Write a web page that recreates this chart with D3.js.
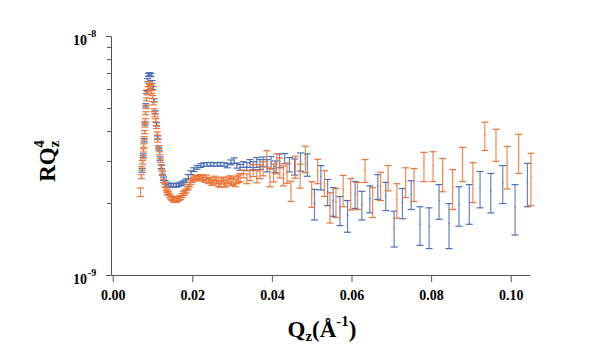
<!DOCTYPE html>
<html>
<head>
<meta charset="utf-8">
<script src="https://cdn.jsdelivr.net/npm/d3@7"></script>
<style>
  html, body { margin: 0; padding: 0; background: #fff; }
  svg { display: block; }
  text { font-family: "Liberation Serif", "Times New Roman", serif; font-weight: bold; }
</style>
</head>
<body>
<svg id="chart" width="596" height="358"></svg>
<script>
// ---- Data (R in units of 1e-9) ----
const UNIT = 1e-9;

const blueQ = [0.0074,0.0077,0.0079,0.0081,0.0083,0.0085,0.0088,0.0090,0.0093,0.0096,0.0099,0.0101,0.0104,0.0107,0.0110,0.0113,0.0116,0.0119,0.0122,0.0125,0.0128,0.0132,0.0136,0.0141,0.0147,0.0153,0.0160,0.0166,0.0172,0.0178,0.0184,0.0190,0.0197,0.0204,0.0212,0.0221,0.0229,0.0237,0.0246,0.0254,0.0263,0.0271,0.0280,0.0288,0.0297,0.0305,0.0312,0.0320,0.0328,0.0337,0.0345,0.0353,0.0362,0.0370,0.0378,0.0388,0.0398,0.0408,0.0419,0.0432,0.0444,0.0457,0.0472,0.0489,0.0507,0.0523,0.0540,0.0554,0.0571,0.0590,0.0609,0.0626,0.0646,0.0666,0.0686,0.0707,0.0728,0.0750,0.0772,0.0795,0.0820,0.0845,0.0870,0.0896,0.0923,0.0950,0.0980,0.1011,0.1042];
const blueR = [2.74,3.16,3.66,4.31,5.13,5.82,6.53,6.88,6.92,6.86,6.41,6.05,5.38,4.79,4.27,3.76,3.38,3.07,2.84,2.68,2.53,2.44,2.39,2.38,2.37,2.38,2.37,2.39,2.41,2.44,2.48,2.58,2.68,2.76,2.82,2.87,2.90,2.90,2.91,2.90,2.90,2.91,2.90,2.87,2.96,3.01,2.87,2.82,2.90,2.84,2.93,2.87,2.96,2.90,2.98,2.87,2.96,2.84,3.01,3.07,2.90,2.84,2.98,2.90,1.99,2.57,2.23,2.04,1.87,1.78,2.18,1.97,2.09,2.35,2.15,1.58,2.01,2.18,1.63,1.60,2.05,1.64,1.97,2.01,2.31,2.24,2.43,1.93,2.43];
const blueE = [0.05,0.05,0.06,0.07,0.08,0.09,0.10,0.10,0.10,0.10,0.10,0.09,0.08,0.07,0.07,0.06,0.05,0.05,0.05,0.04,0.04,0.04,0.04,0.04,0.04,0.04,0.04,0.04,0.04,0.04,0.04,0.05,0.05,0.05,0.05,0.05,0.05,0.05,0.05,0.05,0.05,0.05,0.05,0.06,0.07,0.08,0.07,0.08,0.08,0.11,0.11,0.11,0.14,0.14,0.14,0.17,0.17,0.16,0.20,0.15,0.20,0.22,0.26,0.31,0.29,0.30,0.28,0.28,0.26,0.27,0.28,0.27,0.27,0.28,0.29,0.27,0.29,0.30,0.30,0.31,0.34,0.35,0.37,0.38,0.40,0.42,0.44,0.46,0.50];

const orangeQ = [0.0070,0.0072,0.0073,0.0075,0.0076,0.0077,0.0078,0.0079,0.0080,0.0081,0.0082,0.0083,0.0084,0.0085,0.0087,0.0089,0.0091,0.0093,0.0095,0.0098,0.0100,0.0102,0.0104,0.0106,0.0108,0.0110,0.0112,0.0113,0.0115,0.0118,0.0120,0.0123,0.0125,0.0128,0.0131,0.0134,0.0136,0.0138,0.0140,0.0143,0.0146,0.0149,0.0152,0.0155,0.0159,0.0162,0.0165,0.0168,0.0171,0.0174,0.0177,0.0181,0.0184,0.0187,0.0190,0.0193,0.0196,0.0200,0.0203,0.0207,0.0211,0.0215,0.0219,0.0224,0.0228,0.0232,0.0236,0.0241,0.0245,0.0249,0.0253,0.0257,0.0261,0.0266,0.0270,0.0274,0.0278,0.0282,0.0286,0.0291,0.0295,0.0299,0.0303,0.0308,0.0312,0.0316,0.0320,0.0328,0.0337,0.0345,0.0353,0.0362,0.0370,0.0378,0.0387,0.0395,0.0404,0.0412,0.0420,0.0429,0.0438,0.0448,0.0459,0.0471,0.0484,0.0500,0.0515,0.0532,0.0546,0.0561,0.0579,0.0598,0.0615,0.0634,0.0653,0.0673,0.0692,0.0714,0.0736,0.0757,0.0782,0.0805,0.0829,0.0854,0.0879,0.0905,0.0935,0.0963,0.0991,0.1020,0.1051];
const orangeR = [2.22,2.58,2.79,2.96,3.11,3.32,3.48,3.73,3.96,4.23,4.44,4.75,5.05,5.43,5.76,6.05,6.23,6.35,6.12,5.83,5.56,5.23,4.89,4.66,4.44,4.16,3.91,3.66,3.43,3.23,3.01,2.82,2.66,2.48,2.37,2.29,2.25,2.21,2.19,2.15,2.11,2.09,2.07,2.06,2.05,2.07,2.09,2.10,2.11,2.15,2.19,2.22,2.25,2.30,2.34,2.39,2.44,2.49,2.52,2.55,2.56,2.54,2.58,2.52,2.55,2.50,2.56,2.47,2.50,2.43,2.44,2.52,2.48,2.42,2.40,2.47,2.50,2.41,2.44,2.49,2.52,2.45,2.48,2.43,2.50,2.53,2.56,2.65,2.53,2.61,2.74,2.58,2.71,2.79,3.07,2.56,2.68,2.93,2.82,2.61,2.68,2.25,2.84,2.61,3.07,2.19,2.73,2.43,1.93,2.02,2.27,2.20,2.16,2.74,2.03,2.37,2.56,2.07,2.46,2.41,2.86,2.87,2.65,2.32,2.94,2.48,3.84,3.53,2.87,3.27,2.59];
const orangeE = [0.09,0.05,0.05,0.05,0.05,0.05,0.06,0.06,0.06,0.07,0.07,0.07,0.08,0.08,0.09,0.09,0.09,0.10,0.09,0.09,0.08,0.08,0.07,0.07,0.07,0.06,0.06,0.06,0.05,0.05,0.05,0.05,0.05,0.04,0.04,0.04,0.04,0.04,0.04,0.04,0.04,0.04,0.04,0.04,0.04,0.04,0.04,0.04,0.04,0.04,0.04,0.04,0.04,0.04,0.05,0.05,0.05,0.05,0.05,0.05,0.05,0.05,0.05,0.05,0.06,0.06,0.06,0.06,0.06,0.06,0.06,0.07,0.07,0.07,0.07,0.07,0.07,0.08,0.08,0.08,0.08,0.08,0.09,0.09,0.09,0.09,0.10,0.10,0.12,0.13,0.16,0.15,0.18,0.19,0.24,0.22,0.23,0.28,0.27,0.25,0.26,0.22,0.30,0.30,0.39,0.27,0.32,0.30,0.28,0.28,0.34,0.33,0.28,0.30,0.29,0.32,0.31,0.34,0.35,0.38,0.40,0.41,0.42,0.44,0.48,0.47,0.52,0.54,0.58,0.61,0.64];

const xTicks = [0, 0.02, 0.04, 0.06, 0.08, 0.10];
const yMajor = [1e-9, 1e-8];
const yMajorExp = ["-9", "-8"];
const yMinor = [2e-9,3e-9,4e-9,5e-9,6e-9,7e-9,8e-9,9e-9];
const xDomain = [-0.00043, 0.10485];
const yDomain = [1e-9, 1e-8];

// ---- Layout ----
const svg = d3.select("#chart");
svg.append("rect").attr("width",596).attr("height",358).attr("fill","#fff");
const x = d3.scaleLinear().domain(xDomain).range([111, 530]);
const y = d3.scaleLog().domain(yDomain).range([275, 36]);
const axisColor = "#555";

// Y axis
const gy = svg.append("g").attr("transform","translate(111,0)");
gy.call(d3.axisLeft(y).tickValues(yMinor).tickSize(4).tickFormat("").tickSizeOuter(0));
gy.append("g").call(d3.axisLeft(y).tickValues(yMajor).tickSize(5).tickFormat("").tickSizeOuter(0));
gy.selectAll("path,line").attr("stroke", axisColor);

yMajor.forEach((v,i) => {
  const t = svg.append("text").attr("x",73).attr("y", y(v)+9).attr("font-size",14).attr("fill","#000");
  t.append("tspan").text("10");
  t.append("tspan").attr("dx",1).attr("dy",-8).attr("font-size",10).text(yMajorExp[i]);
});

// X axis
const gx = svg.append("g").attr("transform","translate(0,275)");
gx.call(d3.axisBottom(x).tickValues(xTicks).tickSize(7).tickSizeOuter(0).tickPadding(8.5).tickFormat(d3.format(".2f")));
gx.selectAll("path,line").attr("stroke", axisColor);
gx.selectAll("text").attr("font-size",14).attr("fill","#000")
  .attr("font-family",'"Liberation Serif", serif').attr("font-weight","bold");

// Error bars
function drawSeries(qs, rs, es, color) {
  const g = svg.append("g").attr("stroke", color).attr("stroke-width", 1.2).attr("fill","none");
  const cap = 3.5;
  qs.forEach((q,i) => {
    const cx = x(q);
    const yt = y((rs[i]+es[i])*UNIT), yb = y((rs[i]-es[i])*UNIT), yc = y(rs[i]*UNIT);
    g.append("line").attr("x1",cx).attr("x2",cx).attr("y1",yt).attr("y2",yb).attr("stroke-opacity",0.85);
    g.append("line").attr("x1",cx-cap).attr("x2",cx+cap).attr("y1",yt).attr("y2",yt);
    g.append("line").attr("x1",cx-cap).attr("x2",cx+cap).attr("y1",yb).attr("y2",yb);
    g.append("line").attr("x1",cx-1).attr("x2",cx+1).attr("y1",yc).attr("y2",yc).attr("stroke-opacity",0.5);
  });
}
drawSeries(blueQ, blueR, blueE, "#4a6fb5");
drawSeries(orangeQ, orangeR, orangeE, "#ec7436");

// Axis titles
const xt = svg.append("text").attr("x",322).attr("y",337).attr("text-anchor","middle").attr("font-size",23).attr("fill","#000");
xt.append("tspan").text("Q");
xt.append("tspan").attr("font-size",15).attr("dy",4).text("z");
xt.append("tspan").attr("dy",-4).text("(Å");
xt.append("tspan").attr("font-size",15).attr("dy",-11).text("-1");
xt.append("tspan").attr("dy",11).text(")");

const yt = svg.append("text").attr("transform","translate(55,161) rotate(-90)").attr("text-anchor","middle").attr("font-size",23).attr("fill","#000");
yt.append("tspan").text("RQ");
yt.append("tspan").attr("font-size",15).attr("dy",4).text("z");
yt.append("tspan").attr("font-size",15).attr("dx",-7).attr("dy",-15).text("4");
</script>
</body>
</html>
